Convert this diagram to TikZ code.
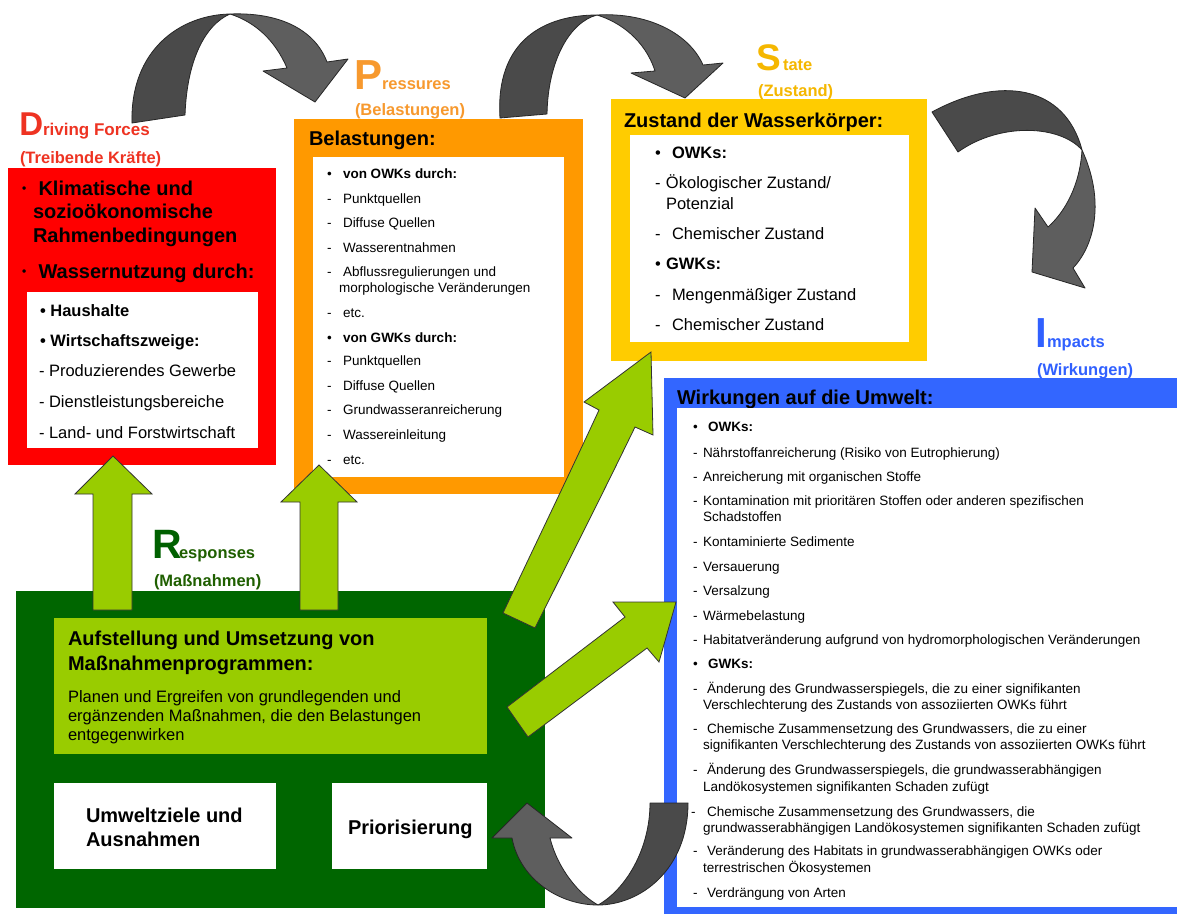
\documentclass[tikz,border=0pt]{standalone}
\usepackage{fontspec}
\setmainfont{Liberation Sans}
\definecolor{cRed}{HTML}{FF0000}
\definecolor{cOrange}{HTML}{FF9900}
\definecolor{cYellow}{HTML}{FFCC00}
\definecolor{cBlue}{HTML}{3366FF}
\definecolor{cDkGreen}{HTML}{006600}
\definecolor{cLtGreen}{HTML}{99CC00}
\definecolor{lRed}{HTML}{EE3322}
\definecolor{lOrange}{HTML}{F7992E}
\definecolor{lYellow}{HTML}{F5B700}
\definecolor{lBlue}{HTML}{3060FF}
\definecolor{lGreen}{HTML}{1F5F00}
\definecolor{rGreen}{HTML}{006000}
\definecolor{grayDark}{HTML}{4A4A4A}
\definecolor{grayLight}{HTML}{5E5E5E}
\newcommand{\mk}[2]{\makebox[#1][l]{#2}}
\newcommand{\smbul}{\raisebox{3pt}{\fontsize{12}{14}\selectfont•}}
\tikzset{
  box/.style={anchor=north west, inner sep=0pt, outer sep=0pt, draw=none},
  txt/.style={anchor=base west, inner sep=0pt, outer sep=0pt},
  big/.style={txt, font=\fontsize{20}{24}\selectfont\bfseries},
  mid/.style={txt, font=\fontsize{16.5}{20}\selectfont},
  midb/.style={txt, font=\fontsize{16.5}{20}\selectfont\bfseries},
  sml/.style={txt, font=\fontsize{13.5}{16}\selectfont},
  lab/.style={txt, font=\fontsize{16.5}{20}\selectfont\bfseries},
  grayD/.style={fill=grayDark, draw=black!85, line width=0.8pt, line join=round},
  grayL/.style={fill=grayLight, draw=black!85, line width=0.8pt, line join=round},
  greenarr/.style={fill=cLtGreen, draw=black!80, line width=0.8pt, line join=miter},
}
\begin{document}
\begin{tikzpicture}[x=1pt,y=-1pt]
\useasboundingbox (0,0) rectangle (1177,913);
\clip (0,0) rectangle (1177,913);
\fill[white] (0,0) rectangle (1177,913);

% ---------- Driving forces ----------
\node[box, fill=cRed, minimum width=268pt, minimum height=297pt] (red) at (8,168) {};
\node[box, fill=white, minimum width=231pt, minimum height=156pt] (redIn) at (27,292) {};
\node[big] (d1) at (22,195) {\mk{11pt}{\smbul} Klimatische und};
\node[big] (d2) at (33,218) {sozioökonomische};
\node[big] (d3) at (33,242) {Rahmenbedingungen};
\node[big] (d4) at (22,278) {\mk{11pt}{\smbul} Wassernutzung durch:};
\node[midb] (d5) at (40,316) {• Haushalte};
\node[midb] (d6) at (40,346) {• Wirtschaftszweige:};
\node[mid] (d7) at (39,376) {- Produzierendes Gewerbe};
\node[mid] (d8) at (39,407) {- Dienstleistungsbereiche};
\node[mid] (d9) at (39,438) {- Land- und Forstwirtschaft};

% ---------- Pressures ----------
\node[box, fill=cOrange, minimum width=289pt, minimum height=375pt] (orange) at (294,119) {};
\node[box, fill=white, minimum width=251pt, minimum height=320pt] (orangeIn) at (313,157) {};
\node[big] (p0) at (309,145) {Belastungen:};
\node[sml] (p1) at (327,178) {\mk{16pt}{•}\textbf{von OWKs durch:}};
\node[sml] (p2) at (327,203) {\mk{16pt}{-}Punktquellen};
\node[sml] (p3) at (327,227) {\mk{16pt}{-}Diffuse Quellen};
\node[sml] (p4) at (327,252) {\mk{16pt}{-}Wasserentnahmen};
\node[sml] (p5) at (327,276) {\mk{16pt}{-}Abflussregulierungen und};
\node[sml] (p6) at (339,292) {morphologische Veränderungen};
\node[sml] (p7) at (327,317) {\mk{16pt}{-}etc.};
\node[sml] (p8) at (327,342) {\mk{16pt}{•}\textbf{von GWKs durch:}};
\node[sml] (p9) at (327,365) {\mk{16pt}{-}Punktquellen};
\node[sml] (p10) at (327,390) {\mk{16pt}{-}Diffuse Quellen};
\node[sml] (p11) at (327,414) {\mk{16pt}{-}Grundwasseranreicherung};
\node[sml] (p12) at (327,439) {\mk{16pt}{-}Wassereinleitung};
\node[sml] (p13) at (327,464) {\mk{16pt}{-}etc.};

% ---------- State ----------
\node[box, fill=cYellow, minimum width=316pt, minimum height=262pt] (yellow) at (611,99) {};
\node[box, fill=white, minimum width=279pt, minimum height=207pt] (yellowIn) at (630,135) {};
\node[big] (s0) at (624,127) {Zustand der Wasserkörper:};
\node[mid] (s1) at (655,158) {\mk{17pt}{•}\textbf{OWKs:}};
\node[mid] (s2) at (655,188) {\mk{11pt}{-}Ökologischer Zustand/};
\node[mid] (s3) at (666,209) {Potenzial};
\node[mid] (s4) at (655,239) {\mk{17pt}{-}Chemischer Zustand};
\node[mid] (s5) at (655,269) {\mk{11pt}{•}\textbf{GWKs:}};
\node[mid] (s6) at (655,300) {\mk{17pt}{-}Mengenmäßiger Zustand};
\node[mid] (s7) at (655,330) {\mk{17pt}{-}Chemischer Zustand};

% ---------- Impacts ----------
\node[box, fill=cBlue, minimum width=530pt, minimum height=540pt] (blue) at (664,378) {};
\node[big] (i0) at (677,404) {Wirkungen auf die Umwelt:};
\node[box, fill=white, minimum width=520pt, minimum height=499pt] (blueIn) at (677,408) {};
\node[sml] (i1) at (693,431) {\mk{15pt}{•}\textbf{OWKs:}};
\node[sml] (i2) at (693,457) {\mk{10pt}{-}Nährstoffanreicherung (Risiko von Eutrophierung)};
\node[sml] (i3) at (693,481) {\mk{10pt}{-}Anreicherung mit organischen Stoffe};
\node[sml] (i4) at (693,505) {\mk{10pt}{-}Kontamination mit prioritären Stoffen oder anderen spezifischen};
\node[sml] (i5) at (703,521) {Schadstoffen};
\node[sml] (i6) at (693,546) {\mk{10pt}{-}Kontaminierte Sedimente};
\node[sml] (i7) at (693,571) {\mk{10pt}{-}Versauerung};
\node[sml] (i8) at (693,595) {\mk{10pt}{-}Versalzung};
\node[sml] (i9) at (693,620) {\mk{10pt}{-}Wärmebelastung};
\node[sml] (i10) at (693,644) {\mk{10pt}{-}Habitatveränderung aufgrund von hydromorphologischen Veränderungen};
\node[sml] (i11) at (693,668) {\mk{15pt}{•}\textbf{GWKs:}};
\node[sml] (i12) at (693,693) {\mk{14pt}{-}Änderung des Grundwasserspiegels, die zu einer signifikanten};
\node[sml] (i13) at (703,709) {Verschlechterung des Zustands von assoziierten OWKs führt};
\node[sml] (i14) at (693,733) {\mk{14pt}{-}Chemische Zusammensetzung des Grundwassers, die zu einer};
\node[sml] (i15) at (703,749) {signifikanten Verschlechterung des Zustands von assoziierten OWKs führt};
\node[sml] (i16) at (693,774) {\mk{14pt}{-}Änderung des Grundwasserspiegels, die grundwasserabhängigen};
\node[sml] (i17) at (703,791) {Landökosystemen signifikanten Schaden zufügt};
\node[sml] (i18) at (691,816) {\mk{16pt}{-}Chemische Zusammensetzung des Grundwassers, die};
\node[sml] (i19) at (703,832) {grundwasserabhängigen Landökosystemen signifikanten Schaden zufügt};
\node[sml] (i20) at (693,855) {\mk{14pt}{-}Veränderung des Habitats in grundwasserabhängigen OWKs oder};
\node[sml] (i21) at (703,872) {terrestrischen Ökosystemen};
\node[sml] (i22) at (693,897) {\mk{14pt}{-}Verdrängung von Arten};

% ---------- Responses ----------
\node[box, fill=cDkGreen, minimum width=529pt, minimum height=317pt] (green) at (16,591) {};
\node[box, fill=cLtGreen, minimum width=433pt, minimum height=136pt] (ltgreen) at (54,618) {};
\node[box, fill=white, minimum width=222pt, minimum height=86pt] (umw) at (54,783) {};
\node[box, fill=white, minimum width=155pt, minimum height=86pt] (prio) at (332,783) {};
\node[big] (g1) at (68,645) {Aufstellung und Umsetzung von};
\node[big] (g2) at (68,670) {Maßnahmenprogrammen:};
\node[mid] (g3) at (68,702) {Planen und Ergreifen von grundlegenden und};
\node[mid] (g4) at (68,721) {ergänzenden Maßnahmen, die den Belastungen};
\node[mid] (g5) at (68,740) {entgegenwirken};
\node[big] (u1) at (86,822) {Umweltziele und};
\node[big] (u2) at (86,846) {Ausnahmen};
\node[big] (pr) at (348,834) {Priorisierung};

% ---------- gray twisted arrows ----------
% A: Driving Forces -> Pressures
\path[grayD] (132,123) .. controls (130,50) and (180,15) .. (230,14) .. controls (205,25) and (187,60) .. (185,115) -- cycle;
\path[grayL] (230,14) .. controls (280,12) and (315,30) .. (327,62) -- (348,59) -- (315,102) -- (263,71) -- (287,68) .. controls (275,40) and (255,22) .. (230,14) -- cycle;
% B: Pressures -> State
\path[grayD] (500,118) .. controls (495,40) and (545,15) .. (597,15) .. controls (570,22) and (548,60) .. (547,114) -- cycle;
\path[grayL] (597,15) .. controls (650,12) and (690,35) .. (703,65) -- (723,63) -- (685,98) -- (631,73) -- (655,71) .. controls (645,40) and (620,22) .. (597,15) -- cycle;
% C: State -> Impacts
\path[grayD] (932,112) .. controls (1000,75) and (1065,85) .. (1082,150) .. controls (1060,125) and (1000,122) .. (958,152) -- cycle;
\path[grayL] (1082,150) .. controls (1105,200) and (1095,245) .. (1073,268) -- (1085,288) -- (1032,272) -- (1035,208) -- (1048,227) .. controls (1065,212) and (1080,185) .. (1082,150) -- cycle;
% D: Impacts -> Priorisierung
\path[grayD] (598,905) .. controls (640,905) and (688,870) .. (688,803) -- (650,803) .. controls (650,850) and (625,890) .. (598,905) -- cycle;
\path[grayL] (512,838) .. controls (520,880) and (560,905) .. (598,905) .. controls (580,895) and (558,870) .. (550,838) -- (572,838) -- (527,803) -- (492,838) -- cycle;

% ---------- green block arrows ----------
\path[greenarr] (93,610) -- (93,494) -- (75,494) -- (113,456) -- (152,494) -- (132,494) -- (132,610) -- cycle;
\path[greenarr] (300,610) -- (300,502) -- (281,502) -- (319,465) -- (357,502) -- (338,502) -- (338,610) -- cycle;
\path[greenarr] (503,613) .. controls (535,545) and (568,477) .. (599,410) -- (584,402) -- (651,352) -- (653,435) -- (635,427) .. controls (602,495) and (568,562) .. (535,628) -- cycle;
\path[greenarr] (507,707) -- (625,617) -- (613,602) -- (676,602) -- (659,662) -- (647,648) -- (528,737) -- cycle;

% ---------- DPSIR labels ----------
\node[txt, font=\fontsize{33}{36}\selectfont\bfseries, text=lRed] (Dbig) at (19.5,135) {D};
\node[lab, font=\fontsize{17}{20}\selectfont\bfseries, text=lRed] (Dsm) at (43,135) {riving Forces};
\node[lab, text=lRed] (Dde) at (20,163) {(Treibende Kräfte)};
\node[txt, font=\fontsize{42}{44}\selectfont\bfseries, text=lOrange] (Pbig) at (354,89) {P};
\node[lab, text=lOrange] (Psm) at (382,89) {ressures};
\node[lab, text=lOrange] (Pde) at (355,115) {(Belastungen)};
\node[txt, font=\fontsize{37}{40}\selectfont\bfseries, text=lYellow] (Sbig) at (756,70) {S};
\node[lab, text=lYellow] (Ssm) at (783,70) {tate};
\node[lab, text=lYellow] (Sde) at (758,96) {(Zustand)};
\node[txt, font=\fontsize{42}{44}\selectfont\bfseries, text=lBlue] (Ibig) at (1035,347) {I};
\node[lab, text=lBlue] (Ism) at (1047,347) {mpacts};
\node[lab, text=lBlue] (Ide) at (1037,375) {(Wirkungen)};
\node[txt, font=\fontsize{41}{44}\selectfont\bfseries, text=rGreen] (Rbig) at (152,558) {R};
\node[lab, text=lGreen] (Rsm) at (179,558) {esponses};
\node[lab, text=lGreen] (Rde) at (154,586) {(Maßnahmen)};
\end{tikzpicture}
\end{document}
